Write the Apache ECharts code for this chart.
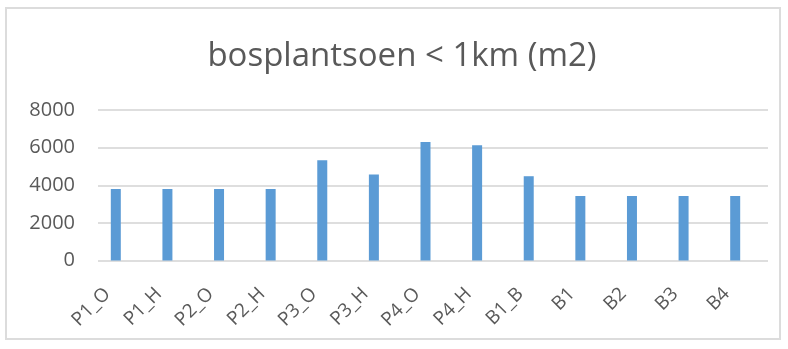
<!DOCTYPE html>
<html>
<head>
<meta charset="utf-8">
<script src="https://cdn.jsdelivr.net/npm/echarts@6/dist/echarts.min.js"></script>
<style>
html,body{margin:0;padding:0;background:#fff;}
#chart{width:788px;height:349px;}
</style>
</head>
<body>
<div id="chart"></div>
<script>
const titleText = 'bosplantsoen < 1km (m2)';
const categories = ['P1_O','P1_H','P2_O','P2_H','P3_O','P3_H','P4_O','P4_H','B1_B','B1','B2','B3','B4'];
const values = [3800, 3800, 3800, 3800, 5330, 4570, 6300, 6120, 4480, 3430, 3430, 3430, 3430];
const yTicks = [0, 2000, 4000, 6000, 8000];

const font = '"Open Sans", "Noto Sans", sans-serif';
const chart = echarts.init(document.getElementById('chart'), null, {renderer: 'canvas'});
chart.setOption({
  animation: false,
  backgroundColor: '#ffffff',
  title: {
    text: titleText,
    left: 397,
    top: 35,
    textAlign: 'center',
    textStyle: {fontFamily: font, fontSize: 33, fontWeight: 'normal', color: '#595959'}
  },
  graphic: [{
    type: 'rect',
    shape: {x: 6, y: 8, width: 774, height: 331},
    style: {fill: 'none', stroke: '#dcdcdc', lineWidth: 2},
    silent: true
  }],
  grid: [
    {left: 98, right: 20, top: 110, bottom: 88.5},
    {left: 90, right: 27, top: 110, bottom: 88.5}
  ],
  xAxis: [
    {gridIndex: 0, type: 'value', show: false, min: 0, max: 1},
    {
      gridIndex: 1, type: 'category', data: categories,
      axisLine: {show: false}, axisTick: {show: false},
      axisLabel: {rotate: 45, margin: 22, padding: [0, 12, 0, 0], fontFamily: font, fontSize: 19, color: '#595959', interval: 0}
    }
  ],
  yAxis: [
    {
      gridIndex: 0, type: 'value', min: yTicks[0], max: yTicks[yTicks.length - 1], interval: 2000,
      axisLine: {show: false}, axisTick: {show: false},
      axisLabel: {margin: 23, fontFamily: font, fontSize: 20, color: '#595959', formatter: v => String(v)},
      splitLine: {show: true, lineStyle: {color: '#dedede', width: 2}}
    },
    {gridIndex: 1, type: 'value', min: 0, max: 8000, show: false, splitLine: {show: false}}
  ],
  series: [{
    type: 'bar',
    xAxisIndex: 1, yAxisIndex: 1,
    data: values,
    barWidth: 10,
    itemStyle: {color: '#5b9bd5'}
  }]
});
</script>
</body>
</html>
